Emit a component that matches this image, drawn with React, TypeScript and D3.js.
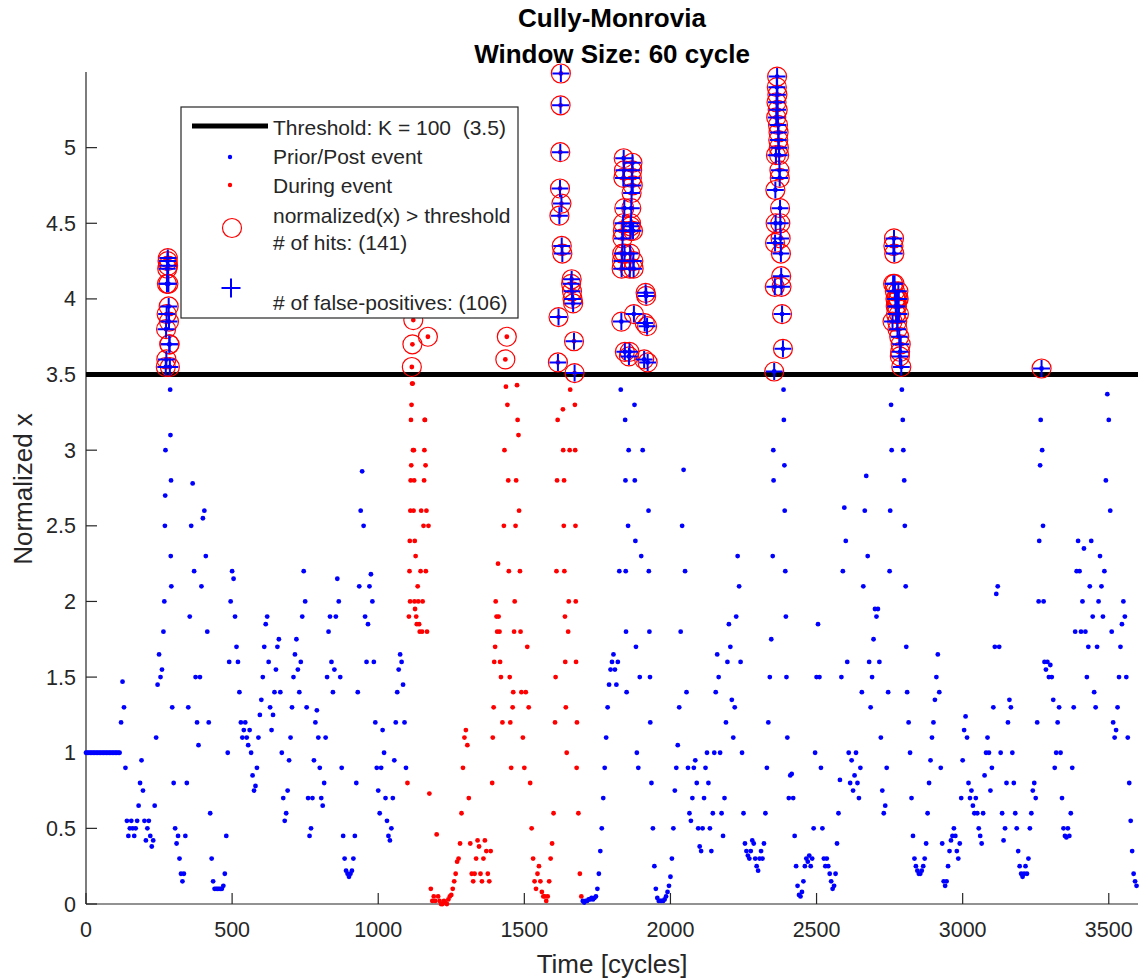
import React from 'react';
import * as d3 from 'd3';

const seg0000 = [
  1, 1, 1, 1, 1, 1, 1, 1, 1, 1, 1, 1, 1, 1, 1, 1, 1, 1, 1, 1,
  1, 1, 1, 1, 1.2, 1.47, 1.3, 0.9, 0.55, 0.45, 0.5, 0.55, 0.5, 0.45, 0.5, 0.55, 0.65, 0.8, 0.95, 0.75,
  0.55, 0.42, 0.5, 0.55, 0.45, 0.38, 0.42, 0.65, 1.1, 1.45, 1.65, 1.5, 1.55, 1.8, 2.5, 3.6, 4.27, 3.7, 2.3, 1.3,
  0.8, 0.5, 0.4, 0.45, 0.3, 0.2, 0.15, 0.2, 0.45, 0.8, 1.3, 1.9, 2.5, 2.78, 2.2, 1.5, 1.2, 1.05, 1.5, 2.1,
  2.55, 2.6, 2.3, 1.8, 1.2, 0.6, 0.3, 0.15, 0.1, 0.1, 0.1, 0.1, 0.1, 0.1, 0.12, 0.2, 0.45, 1.0, 1.6, 2.0,
  2.2, 2.15, 1.9, 1.7, 1.6, 1.4, 1.2, 1.1, 1.15, 1.2, 1.1, 1.05, 1.15, 1.0, 0.85, 0.75, 0.78, 0.9, 1.1, 1.25,
];
const seg0600 = [
  1.35, 1.5, 1.7, 1.85, 1.9, 1.6, 1.3, 1.15, 1.25, 1.4, 1.55, 1.7, 1.75, 1.4, 1.0, 0.7, 0.55, 0.6, 0.75, 0.95,
  1.1, 1.3, 1.5, 1.65, 1.75, 1.55, 1.4, 1.6, 1.9, 2.2, 2.0, 1.3, 0.7, 0.45, 0.5, 0.7, 0.95, 1.2, 1.28, 1.1,
  0.9, 0.7, 0.65, 0.8, 1.1, 1.5, 1.8, 1.9, 1.6, 1.4, 1.55, 1.9, 2.15, 2.0, 1.5, 0.9, 0.45, 0.3, 0.22, 0.2,
  0.18, 0.2, 0.22, 0.3, 0.45, 0.8, 1.4, 2.1, 2.6, 2.86, 2.5, 1.9, 1.6, 1.85, 2.1, 2.18, 2.0, 1.6, 1.2, 0.9,
  0.75, 0.6, 0.9, 1.15, 1.0, 0.7, 0.55, 0.45, 0.42, 0.5, 0.7, 0.95, 1.2, 1.4, 1.55, 1.65, 1.6, 1.45, 1.2, 0.9,
  0.8, 1.9, 2.6, 3.55, 3.86, 2.4, 1.9, 2.1, 1.85, 2.2, 1.8, 2.5, 3.2, 2.6, 3.75, 0.73, 0.1, 0.02, 0.05, 0.02,
];
const seg1200 = [
  0.46, 0.05, 0.02, 0, 0, 0.02, 0.01, 0, 0.03, 0.05, 0.06, 0.1, 0.15, 0.2, 0.28, 0.3, 0.4, 0.6, 0.9, 1.1,
  1.15, 1.05, 0.7, 0.4, 0.2, 0.15, 0.2, 0.3, 0.42, 0.38, 0.2, 0.15, 0.3, 0.42, 0.35, 0.2, 0.15, 0.35, 0.8, 1.3,
  1.7, 1.9, 2.25, 1.8, 1.5, 1.2, 2.5, 3.6, 3.75, 2.8, 1.5, 0.9, 1.3, 1.8, 2.5, 3.43, 3.1, 2.2, 1.4, 1.1,
  0.9, 1.4, 1.7, 1.3, 0.8, 0.5, 0.3, 0.15, 0.1, 0.2, 0.25, 0.15, 0.08, 0.05, 0.05, 0.02, 0.05, 0.15, 0.3, 0.4,
  0.6, 1.2, 2.2, 3.58, 4.55, 5.49, 4.3, 2.5, 1.6, 1.0, 1.8, 3.0, 4.1, 4.0, 3.72, 2.5, 1.2, 0.6, 0.2, 0.05,
  0.02, 0.01, 0.02, 0.02, 0.03, 0.03, 0.04, 0.03, 0.04, 0.05, 0.1, 0.2, 0.35, 0.5, 0.7, 0.9, 1.1, 1.3, 1.45, 1.55,
];
const seg1800 = [
  1.6, 1.65, 1.55, 1.45, 1.6, 2.2, 3.4, 4.3, 4.93, 3.2, 1.4, 2.5, 3.65, 4.5, 4.9, 3.9, 2.4, 1.0, 0.9, 1.5,
  2.3, 3.0, 3.6, 4.04, 3.82, 2.6, 1.5, 0.8, 0.5, 0.25, 0.1, 0.04, 0.02, 0.02, 0.02, 0.02, 0.03, 0.05, 0.08, 0.12,
  0.18, 0.3, 0.5, 0.75, 0.9, 1.05, 1.3, 1.8, 2.5, 2.87, 2.2, 1.4, 0.9, 0.6, 0.55, 0.7, 0.9, 0.95, 0.8, 0.5,
  0.38, 0.35, 0.5, 0.7, 0.9, 1.0, 0.8, 0.5, 0.35, 0.6, 1.0, 1.4, 1.65, 1.5, 1.0, 0.6, 0.45, 0.7, 1.2, 1.6,
  1.85, 1.7, 1.35, 1.1, 1.3, 1.9, 2.3, 2.1, 1.6, 1.0, 0.6, 0.4, 0.35, 0.32, 0.3, 0.35, 0.42, 0.4, 0.3, 0.25,
  0.22, 0.3, 0.35, 0.3, 0.4, 0.6, 0.9, 1.2, 1.5, 1.75, 2.3, 3.52, 4.5, 5.47, 5.1, 4.6, 4.08, 3.67, 2.9, 1.9,
];
const seg2400 = [
  1.1, 0.7, 0.85, 0.86, 0.7, 0.45, 0.25, 0.12, 0.06, 0.05, 0.08, 0.15, 0.25, 0.3, 0.28, 0.32, 0.25, 0.3, 0.5, 1.0,
  1.5, 1.85, 1.5, 0.9, 0.5, 0.3, 0.25, 0.3, 0.25, 0.2, 0.15, 0.1, 0.12, 0.2, 0.4, 0.6, 0.82, 1.5, 2.2, 2.62,
  2.4, 1.6, 1.0, 0.8, 0.95, 0.75, 0.85, 1.0, 0.8, 0.7, 0.9, 1.4, 2.1, 2.6, 2.83, 2.3, 1.6, 1.3, 1.5, 1.75,
  1.95, 1.9, 1.95, 1.6, 1.1, 0.75, 0.6, 0.65, 0.9, 1.4, 2.2, 3.3, 3.85, 4.4, 4.0, 3.95, 4.05, 3.62, 3.55, 3.2,
  2.8, 2.1, 1.4, 1.2, 1.0, 0.7, 0.45, 0.3, 0.25, 0.22, 0.2, 0.2, 0.22, 0.25, 0.3, 0.4, 0.6, 0.8, 0.95, 1.1,
  1.2, 1.35, 1.5, 1.65, 1.4, 0.9, 0.4, 0.15, 0.12, 0.15, 0.25, 0.35, 0.42, 0.45, 0.5, 0.45, 0.35, 0.3, 0.4, 0.7,
];
const seg3000 = [
  0.95, 1.15, 1.24, 1.1, 0.8, 0.7, 0.75, 0.65, 0.6, 0.7, 0.6, 0.5, 0.45, 0.4, 0.6, 0.85, 1.0, 1.1, 1.0, 0.75,
  0.9, 1.3, 1.7, 2.05, 2.1, 1.7, 1.0, 0.6, 0.42, 0.5, 0.8, 1.2, 1.35, 1.3, 1.0, 0.8, 0.6, 0.5, 0.35, 0.25,
  0.2, 0.18, 0.2, 0.25, 0.2, 0.3, 0.5, 0.6, 0.75, 0.8, 0.7, 1.2, 2.0, 2.9, 3.54, 2.5, 1.6, 1.55, 1.6, 1.5,
  1.58, 1.5, 1.35, 0.9, 1.0, 1.2, 1.3, 1.0, 0.7, 0.5, 0.45, 0.44, 0.5, 0.45, 0.6, 0.9, 1.3, 1.8, 2.2, 2.4,
  2.2, 1.8, 2.0, 2.35, 1.8, 1.5, 1.7, 2.1, 2.4, 1.9, 1.4, 1.3, 1.7, 2.0, 2.3, 2.1, 1.9, 2.2, 2.8, 3.37,
  3.2, 2.6, 1.8, 1.2, 1.1, 1.15, 1.3, 1.5, 1.7, 1.85, 2.0, 1.9, 1.5, 1.1, 0.8, 0.55, 0.35, 0.2, 0.15, 0.12,
];

// Additional samples read on the steep spikes (dense columns of dots)
const extraCycles = [
  268, 271, 272, 273, 274, 276, 277, 278, 279, 281, 282, 283, 284, 286, 287, 288, 289, 291, 292,
  1107, 1108, 1109, 1111, 1112, 1113, 1114, 1116, 1117, 1118, 1119, 1121, 1122, 1123, 1124, 1126, 1128,
  1132, 1137, 1142, 1147, 1152, 1157, 1158, 1159, 1162, 1163, 1167, 1172,
  1392, 1397, 1402, 1407, 1412, 1417, 1432, 1437, 1442, 1447, 1452, 1462, 1467, 1472, 1477, 1482, 1487,
  1607, 1612, 1614, 1617, 1622, 1623, 1624, 1627, 1628, 1632, 1633, 1636, 1637, 1639, 1642,
  1652, 1657, 1662, 1663, 1667, 1672, 1673, 1674, 1676, 1677, 1679,
  1832, 1833, 1834, 1836, 1837, 1838, 1839, 1841, 1842, 1843, 1844, 1846, 1847, 1848,
  1857, 1858, 1861, 1862, 1863, 1864, 1866, 1867, 1868, 1869, 1871, 1872, 1873, 1874, 1877, 1878, 1882,
  1912, 1917, 1922, 1926, 1928, 1931,
  2352, 2353, 2357, 2358, 2359, 2361, 2362, 2363, 2364, 2366, 2367, 2368, 2369, 2371, 2372, 2373, 2374,
  2376, 2377, 2378, 2379, 2382, 2387, 2388, 2391, 2393, 2397,
  2752, 2757, 2762, 2763, 2766, 2767, 2768, 2771, 2772, 2773, 2776, 2777, 2778, 2781, 2782, 2783, 2786, 2788,
  2792, 2797, 2802, 2807,
  3262, 3267, 3272, 3277,
];
const extraValues = [
  2.0, 2.7, 3.0, 3.55, 3.8, 3.9, 4.1, 4.2, 4.25, 4.22, 4.1, 3.95, 3.85, 3.7, 3.55, 3.4, 3.1, 2.8, 2.1,
  2.2, 2.4, 2.0, 2.8, 3.2, 2.9, 3.3, 3.44, 3.7, 3.44, 3.0, 2.6, 3.0, 2.8, 2.0, 1.95, 2.3,
  1.85, 2.0, 1.8, 2.6, 2.0, 2.8, 3.0, 3.2, 2.9, 2.2, 1.8, 2.5,
  1.1, 1.6, 2.0, 1.8, 1.9, 1.6, 3.0, 3.42, 3.3, 2.2, 1.2, 1.4, 2.0, 2.8, 3.2, 2.6, 1.8,
  1.5, 2.8, 3.2, 3.88, 4.73, 4.97, 5.28, 4.63, 4.35, 3.27, 3.0, 2.8, 2.2, 1.9, 1.3,
  2.0, 3.4, 4.13, 4.05, 3.97, 3.51, 3.3, 3.0, 2.0, 1.6, 0.9,
  3.85, 4.2, 4.25, 4.4, 4.45, 4.5, 4.8, 4.85, 4.6, 4.3, 3.65, 2.8, 2.2, 1.8,
  3.0, 3.62, 4.2, 4.3, 4.45, 4.48, 4.6, 4.7, 4.8, 4.85, 4.75, 4.45, 4.25, 4.2, 3.3, 2.8, 1.7,
  3.84, 4.02, 3.58, 2.2, 1.8, 1.2,
  3.0, 2.8, 4.08, 4.37, 4.72, 4.95, 5.2, 5.3, 5.4, 5.35, 5.25, 5.15, 5.05, 5.0, 4.95, 4.85, 4.8,
  4.5, 4.4, 4.3, 4.15, 3.9, 3.4, 3.2, 2.6, 2.2, 1.5,
  2.6, 3.0, 4.1, 4.35, 4.3, 4.1, 4.05, 3.95, 3.9, 4.0, 3.85, 3.8, 4.0, 4.0, 3.9, 3.75, 3.65, 3.7,
  3.4, 3.0, 2.5, 1.7,
  2.4, 3.2, 3.0, 2.0,
];

const STEP = 5;
const THRESHOLD = 3.5;
const EVENT_START = 1100; // "During event" samples (red)
const EVENT_END = 1695;
const TRUE_HIT_END = 1600; // hits after this are counted as false positives

const xTicks = [0, 500, 1000, 1500, 2000, 2500, 3000, 3500];
const yTicks = [0, 0.5, 1, 1.5, 2, 2.5, 3, 3.5, 4, 4.5, 5];
const yTickLabels = ['0', '0.5', '1', '1.5', '2', '2.5', '3', '3.5', '4', '4.5', '5'];

const titleLines = ['Cully-Monrovia', 'Window Size: 60 cycle'];
const legendLabels = [
  'Threshold: K = 100\u00a0 (3.5)',
  'Prior/Post event',
  'During event',
  'normalized(x) > threshold',
  '# of hits: (141)',
  '# of false-positives: (106)',
];

type Pt = { c: number; v: number };

const values = [...seg0000, ...seg0600, ...seg1200, ...seg1800, ...seg2400, ...seg3000];
const points: Pt[] = values
  .map((v, i) => ({ c: i * STEP, v }))
  .concat(extraCycles.map((c, i) => ({ c, v: extraValues[i] })));

const AX = '#262626';
const FONT = "'Liberation Sans', Arial, Helvetica, sans-serif";

export default function App() {
  const x = d3.scaleLinear().domain([0, 3600]).range([86, 1138]);
  const y = d3.scaleLinear().domain([0, 5.5]).range([904, 72]);

  const isEvent = (c: number) => c >= EVENT_START && c <= EVENT_END;
  const hits = points.filter((p) => p.v > THRESHOLD);
  const falsePos = hits.filter((p) => !(p.c >= EVENT_START && p.c < TRUE_HIT_END));

  const plusPath = (cx: number, cy: number, h: number) =>
    `M${cx - h},${cy}H${cx + h}M${cx},${cy - h}V${cy + h}`;

  return (
    <svg
      width={1144}
      height={980}
      style={{ position: 'absolute', left: 0, top: 0, background: '#fff' }}
      fontFamily={FONT}
    >
      <rect x={0} y={0} width={1144} height={980} fill="#fff" />
      {/* title */}
      <text x={612} y={27} textAnchor="middle" fontWeight="bold" fontSize={26} fill="#000">
        {titleLines[0]}
      </text>
      <text x={612} y={63} textAnchor="middle" fontWeight="bold" fontSize={26} fill="#000">
        {titleLines[1]}
      </text>

      {/* axes */}
      <line x1={x(0)} x2={x(0)} y1={y(5.5)} y2={y(0)} stroke={AX} strokeWidth={1.2} />
      <line x1={x(0)} x2={x(3600)} y1={y(0)} y2={y(0)} stroke={AX} strokeWidth={1.2} />
      {yTicks.map((t, i) => (
        <g key={'yt' + i}>
          <line x1={x(0)} x2={x(0) + 11} y1={y(t)} y2={y(t)} stroke={AX} strokeWidth={1.2} />
          <text x={76} y={y(t)} dy="0.35em" textAnchor="end" fontSize={21.5} fill={AX}>
            {yTickLabels[i]}
          </text>
        </g>
      ))}
      {xTicks.map((t) => (
        <g key={'xt' + t}>
          <line x1={x(t)} x2={x(t)} y1={y(0)} y2={y(0) - 11} stroke={AX} strokeWidth={1.2} />
          <text x={x(t)} y={937} textAnchor="middle" fontSize={21.5} fill={AX}>
            {t}
          </text>
        </g>
      ))}
      <text x={612} y={973} textAnchor="middle" fontSize={26} fill={AX}>
        Time [cycles]
      </text>
      <text transform={`translate(32,489) rotate(-90)`} textAnchor="middle" fontSize={26} fill={AX}>
        Normalized x
      </text>

      {/* threshold */}
      <line x1={x(0)} x2={x(3600)} y1={y(THRESHOLD)} y2={y(THRESHOLD)} stroke="#000" strokeWidth={5} />

      {/* data dots */}
      {points.map((p, i) => (
        <circle
          key={'p' + i}
          cx={x(p.c)}
          cy={y(p.v)}
          r={2.4}
          fill={isEvent(p.c) ? '#ff0000' : '#0000ff'}
        />
      ))}
      {/* hits */}
      {hits.map((p, i) => (
        <circle
          key={'h' + i}
          cx={x(p.c)}
          cy={y(p.v)}
          r={9.5}
          fill="none"
          stroke="#ff0000"
          strokeWidth={1.2}
        />
      ))}
      {falsePos.map((p, i) => (
        <path key={'f' + i} d={plusPath(x(p.c), y(p.v), 8.5)} stroke="#0000ff" strokeWidth={2} fill="none" />
      ))}

      {/* legend */}
      <g>
        <rect x={181} y={107} width={337} height={211} fill="#fff" stroke={AX} strokeWidth={1.2} />
        <line x1={192} x2={268} y1={126} y2={126} stroke="#000" strokeWidth={5} />
        <circle cx={230} cy={157} r={2.2} fill="#0000ff" />
        <circle cx={230} cy={185} r={2.2} fill="#ff0000" />
        <circle cx={232} cy={228} r={9.5} fill="none" stroke="#ff0000" strokeWidth={1.2} />
        <path d={plusPath(231, 288, 9.5)} stroke="#0000ff" strokeWidth={2} fill="none" />
        <g fontSize={21} fill={AX}>
          <text x={273} y={135}>{legendLabels[0]}</text>
          <text x={273} y={164}>{legendLabels[1]}</text>
          <text x={273} y={193}>{legendLabels[2]}</text>
          <text x={273} y={223}>{legendLabels[3]}</text>
          <text x={273} y={250}>{legendLabels[4]}</text>
          <text x={273} y={310}>{legendLabels[5]}</text>
        </g>
      </g>
    </svg>
  );
}
